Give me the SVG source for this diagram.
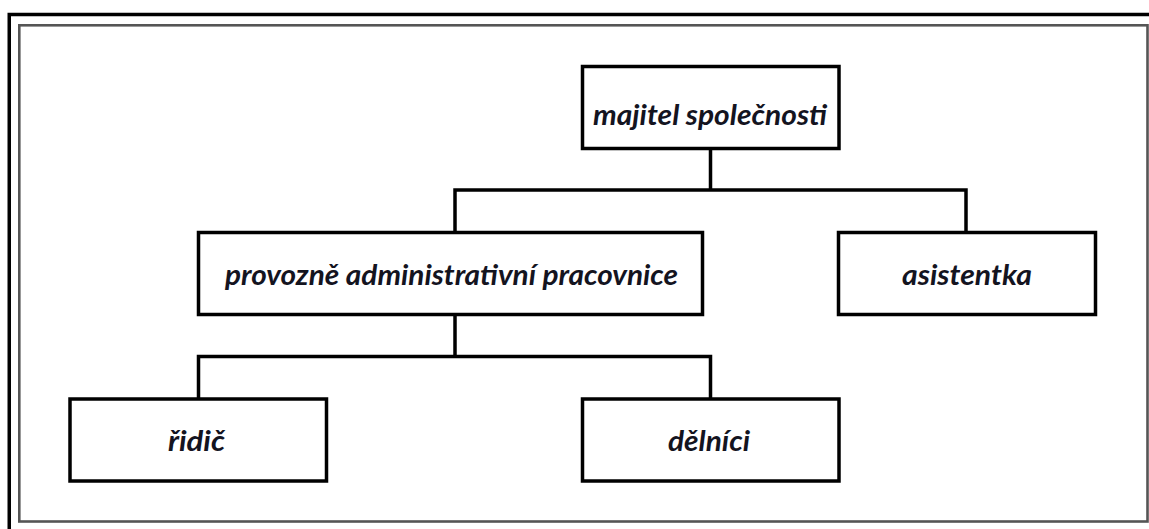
<svg xmlns="http://www.w3.org/2000/svg" width="1149" height="529" viewBox="0 0 1149 529">
  <style>
    .box { fill: #ffffff; stroke: #000000; stroke-width: 3.5; }
    .wire { fill: none; stroke: #000000; stroke-width: 3.5; stroke-linejoin: miter; stroke-linecap: square; }
    .label { font-family: Lato, "Open Sans", "Liberation Sans", sans-serif; font-weight: bold; font-style: italic; font-size: 28.5px; fill: #14141f; text-anchor: middle; }
  </style>

  <rect width="1149" height="529" fill="#ffffff"/>

  <!-- page frames -->
  <g id="frames">
    <path d="M9.25,529 V14.5 H1149" fill="none" stroke="#000000" stroke-width="3.5"/>
    <rect x="19.3" y="25.3" width="1128.2" height="496.2" fill="none" stroke="#555555" stroke-width="2.6"/>
  </g>

  <!-- connectors -->
  <g id="connectors">
    <path class="wire" d="M710.5,148.5 V190 M455,232.5 V190 H966 V232.5"/>
    <path class="wire" d="M455,314.5 V356.5 M198.5,399 V356.5 H710.5 V399"/>
  </g>

  <g id="node-majitel">
    <rect class="box" x="582.5" y="66.5" width="256.5" height="82"/>
    <text class="label" x="710" y="125" textLength="234" lengthAdjust="spacingAndGlyphs">majitel společnosti</text>
  </g>

  <g id="node-provozne">
    <rect class="box" x="198.5" y="232.5" width="504" height="82"/>
    <text class="label" x="451.5" y="285" textLength="453" lengthAdjust="spacingAndGlyphs">provozně administrativní pracovnice</text>
  </g>

  <g id="node-asistentka">
    <rect class="box" x="838.5" y="232.5" width="257" height="82"/>
    <text class="label" x="967" y="285" textLength="130" lengthAdjust="spacingAndGlyphs">asistentka</text>
  </g>

  <g id="node-ridic">
    <rect class="box" x="70" y="399" width="256.5" height="82"/>
    <text class="label" x="196.5" y="451" textLength="57" lengthAdjust="spacingAndGlyphs">řidič</text>
  </g>

  <g id="node-delnici">
    <rect class="box" x="582.5" y="399" width="256.5" height="82"/>
    <text class="label" x="709" y="451" textLength="82" lengthAdjust="spacingAndGlyphs">dělníci</text>
  </g>
</svg>
